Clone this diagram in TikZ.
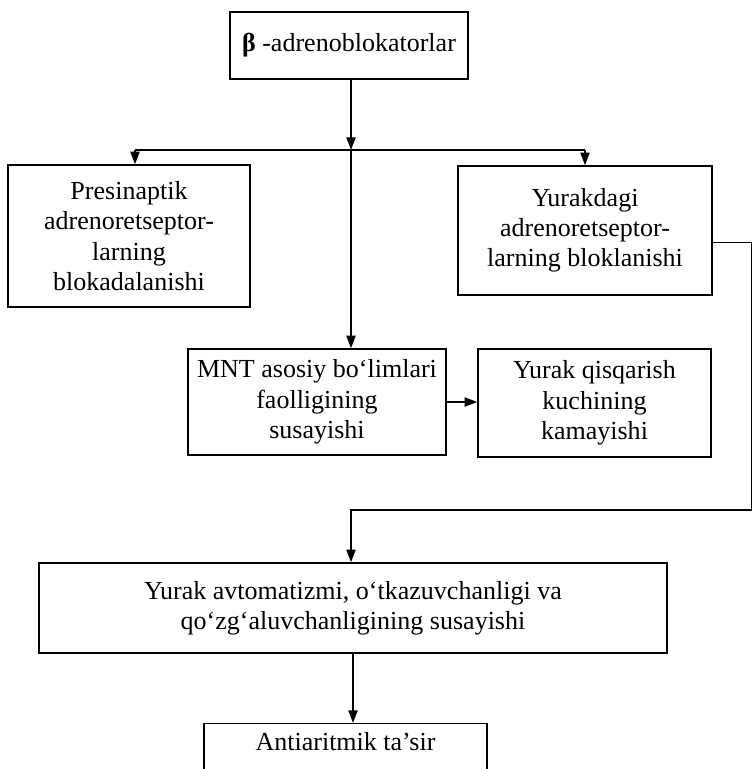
\documentclass[tikz,border=0pt]{standalone}
\usepackage{fontspec}
\setmainfont{Liberation Serif}
\usetikzlibrary{arrows.meta,positioning}
\tikzset{
  blok/.style={draw=black,line width=1pt,align=center,inner sep=0pt,font=\fontsize{18.5}{21.5}\selectfont},
  flow/.style={-{Triangle[length=9pt,width=6.5pt]},line width=1.3pt},
  treeline/.style={line width=1.3pt},
}

\begin{document}
\begin{tikzpicture}[x=0.025cm,y=-0.025cm]
    \useasboundingbox (0,0) rectangle (753,769);
    \node[blok,minimum width=5.95cm,minimum height=1.675cm] (beta) at (349,45.5) {\textbf{β} -adrenoblokatorlar};
    \node[blok,minimum width=6.05cm,minimum height=3.55cm] (presin) at (129,236) {Presinaptik\\adrenoretseptor-\\larning\\blokadalanishi};
    \node[blok,minimum width=6.35cm,minimum height=3.225cm] (yurak) at (585,230.5) {Yurakdagi\\adrenoretseptor-\\larning bloklanishi};
    \node[blok,minimum width=6.45cm,minimum height=2.65cm] (mnt) at (317,402) {MNT asosiy bo‘limlari\\faolligining\\susayishi};
    \node[blok,minimum width=5.825cm,minimum height=2.7cm] (qisq) at (594.5,403) {Yurak qisqarish\\kuchining\\kamayishi};
    \node[blok,minimum width=15.7cm,minimum height=2.25cm] (avto) at (353,608) {Yurak avtomatizmi, o‘tkazuvchanligi va\\qo‘zg‘aluvchanligining susayishi};
    \node[blok,minimum width=7.075cm,minimum height=2.25cm,anchor=north] (anti) at (345.5,723) {\raisebox{2.1em}{Antiaritmik ta’sir}};
    % tarmoqlanish
    \coordinate (j) at (351,150);
    \coordinate (jl) at (135,150);
    \coordinate (jr) at (585,150);
    \coordinate (r1) at (751.5,510);
    \coordinate (r2) at (351,510);
    \draw[flow] (beta.south -| j) -- (j);
    \draw[treeline] (jl) -- (jr);
    \draw[flow] (jl) -- (jl |- presin.north);
    \draw[flow] (jr) -- (jr |- yurak.north);
    \draw[flow] (j) -- (j |- mnt.north);
    \draw[flow] (mnt) -- (mnt -| qisq.west);
    \draw[flow] ([yshift=-0.3cm]yurak.east) -| (r1) -- (r2) -- (r2 |- avto.north);
    \draw[flow] (avto.south) -- (avto.south |- anti.north);
  \end{tikzpicture}
\end{document}
